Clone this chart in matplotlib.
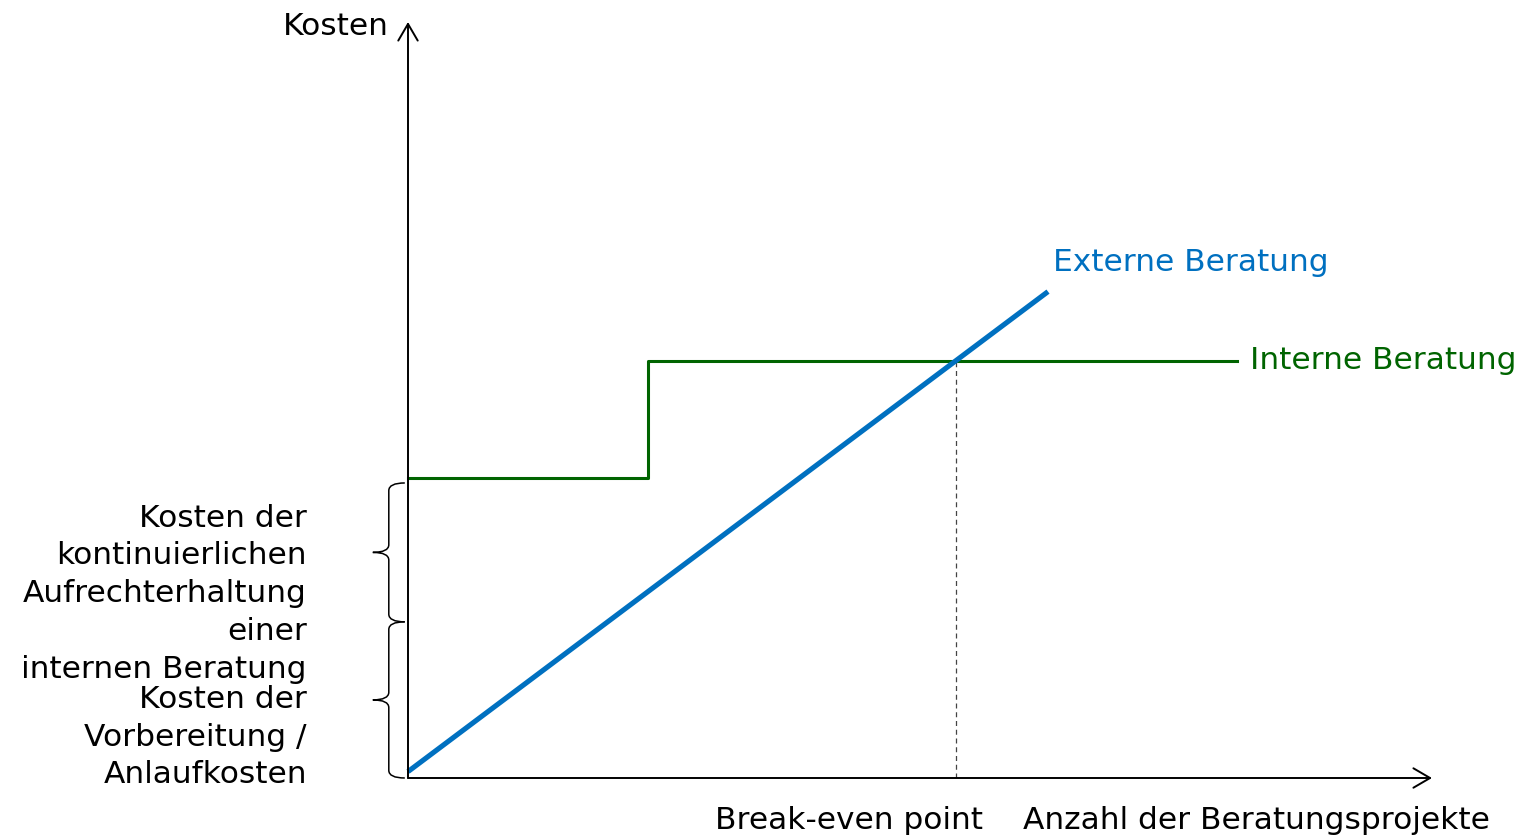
import matplotlib.pyplot as plt
from matplotlib.path import Path
from matplotlib.patches import PathPatch

plt.rcParams['font.family'] = ['DejaVu Sans']

# Kostenverlauf (beliebige Einheiten)
projekte_extern = [0, 10]
kosten_extern = [0.1, 7.6]

projekte_intern = [0, 3.75, 3.75, 12.95]
kosten_intern = [4.69, 4.69, 6.52, 6.52]

steigung = (kosten_extern[1] - kosten_extern[0]) / (projekte_extern[1] - projekte_extern[0])
break_even = (kosten_intern[-1] - kosten_extern[0]) / steigung

label_fix = "Kosten der\nkontinuierlichen\nAufrechterhaltung\neiner\ninternen Beratung"
label_start = "Kosten der\nVorbereitung /\nAnlaufkosten"

blau = "#0070C0"
gruen = "#006400"

fig = plt.figure(figsize=(15.21, 8.36), dpi=100)
ax = fig.add_axes([408 / 1521, 58 / 836, 1024 / 1521, 756 / 836])
ax.set_xlim(0, 16)
ax.set_ylim(0, 756 / 64)
ax.axis("off")

# Achsen mit offenen Pfeilspitzen
pfeil = dict(arrowstyle="->,head_length=0.6,head_width=0.35", lw=1.4, color="black",
             shrinkA=0, shrinkB=0, mutation_scale=20)
ax.annotate("", xy=(16, 0), xytext=(0, 0), arrowprops=pfeil, annotation_clip=False)
ax.annotate("", xy=(0, 756 / 64), xytext=(0, 0), arrowprops=pfeil, annotation_clip=False)

ax.plot(projekte_intern, kosten_intern, color=gruen, lw=2.2, clip_on=False)
ax.plot(projekte_extern, kosten_extern, color=blau, lw=3.7, clip_on=False, solid_capstyle="butt")
ax.plot([break_even, break_even], [0, kosten_intern[-1]], color="#444444", lw=0.9,
        ls=(0, (4, 3)), zorder=1)


def klammer(y0, y1, x_rechts=-0.05, x_mitte=-0.30, x_spitze=-0.55, r=0.12):
    ym = (y0 + y1) / 2
    verts = [
        (x_rechts, y1), (x_mitte, y1), (x_mitte, y1 - r),
        (x_mitte, ym + r),
        (x_mitte, ym), (x_spitze, ym),
        (x_mitte, ym), (x_mitte, ym - r),
        (x_mitte, y0 + r),
        (x_mitte, y0), (x_rechts, y0),
    ]
    codes = [Path.MOVETO, Path.CURVE3, Path.CURVE3,
             Path.LINETO,
             Path.CURVE3, Path.CURVE3,
             Path.CURVE3, Path.CURVE3,
             Path.LINETO,
             Path.CURVE3, Path.CURVE3]
    ax.add_patch(PathPatch(Path(verts, codes), fill=False, lw=1.1, color="black", clip_on=False))


klammer(0.0, 2.44)
klammer(2.44, 4.61)

fs = 22.5
ax.text(-0.30, 11.74, "Kosten", ha="right", va="center", fontsize=fs)
ax.text(10.08, 8.06, "Externe Beratung", ha="left", va="center", fontsize=fs, color=blau)
ax.text(13.16, 6.53, "Interne Beratung", ha="left", va="center", fontsize=fs, color=gruen)
ax.text(break_even + 0.42, -0.67, "Break-even point", ha="right", va="center", fontsize=fs)
ax.text(9.61, -0.67, "Anzahl der Beratungsprojekte", ha="left", va="center", fontsize=fs)
ax.text(-1.58, 2.88, label_fix, ha="right", va="center", multialignment="right",
        fontsize=fs, linespacing=1.38)
ax.text(-1.58, 0.64, label_start, ha="right", va="center", multialignment="right",
        fontsize=fs, linespacing=1.38)

fig.savefig("out.png", dpi=100)
